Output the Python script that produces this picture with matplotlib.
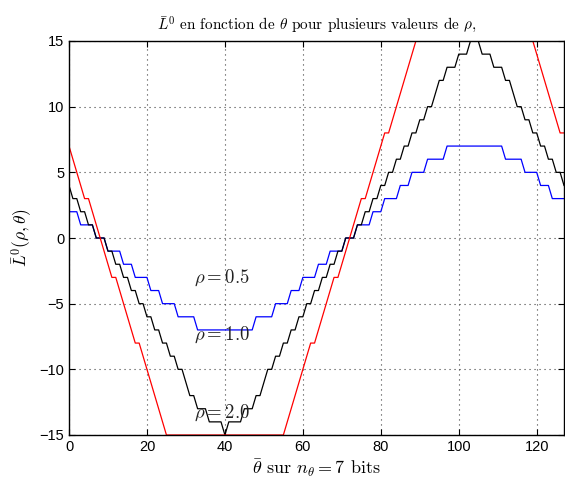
import matplotlib
matplotlib.use("Agg")
import matplotlib.pyplot as plt
import numpy as np

# theta_bar values (7 bits)
theta = np.arange(128)

# rho = 0.5 (blue)
L_rho05 = [2, 2, 2, 1, 1, 1, 1, 0, 0, 0, -1, -1, -1, -1, -2, -2,
           -2, -3, -3, -3, -3, -4, -4, -4, -5, -5, -5, -5, -6, -6, -6, -6,
           -6, -7, -7, -7, -7, -7, -7, -7, -7, -7, -7, -7, -7, -7, -7, -7,
           -6, -6, -6, -6, -6, -5, -5, -5, -5, -4, -4, -4, -3, -3, -3, -3,
           -2, -2, -2, -1, -1, -1, -1, 0, 0, 0, 1, 1, 1, 1, 2, 2,
           2, 3, 3, 3, 3, 4, 4, 4, 5, 5, 5, 5, 6, 6, 6, 6,
           6, 7, 7, 7, 7, 7, 7, 7, 7, 7, 7, 7, 7, 7, 7, 7,
           6, 6, 6, 6, 6, 5, 5, 5, 5, 4, 4, 4, 3, 3, 3, 3]

# rho = 1.0 (black)
L_rho10 = [4, 3, 3, 2, 2, 1, 1, 0, 0, 0, -1, -1, -2, -2, -3, -3,
           -4, -4, -5, -5, -6, -6, -7, -7, -8, -8, -9, -9, -10, -10, -11, -12,
           -12, -13, -13, -13, -14, -14, -14, -14, -15, -14, -14, -14, -14, -13, -13, -13,
           -12, -12, -11, -10, -10, -9, -9, -8, -8, -7, -7, -6, -6, -5, -5, -4,
           -4, -3, -3, -2, -2, -1, -1, 0, 0, 0, 1, 1, 2, 2, 3, 3,
           4, 4, 5, 5, 6, 6, 7, 7, 8, 8, 9, 9, 10, 10, 11, 12,
           12, 13, 13, 13, 14, 14, 14, 15, 15, 15, 14, 14, 14, 13, 13, 13,
           12, 12, 11, 10, 10, 9, 9, 8, 8, 7, 7, 6, 6, 5, 5, 4]

# rho = 2.0 (red)
L_rho20 = [7, 6, 5, 4, 3, 3, 2, 1, 0, -1, -2, -3, -3, -4, -5, -6,
           -7, -8, -8, -9, -10, -11, -12, -13, -14, -15, -15, -15, -15, -15, -15, -15,
           -15, -15, -15, -15, -15, -15, -15, -15, -15, -15, -15, -15, -15, -15, -15, -15,
           -15, -15, -15, -15, -15, -15, -15, -15, -14, -13, -12, -11, -10, -9, -8, -8,
           -7, -6, -5, -4, -3, -3, -2, -1, 0, 1, 2, 3, 3, 4, 5, 6,
           7, 8, 8, 9, 10, 11, 12, 13, 14, 15, 15, 15, 15, 15, 15, 15,
           15, 15, 15, 15, 15, 15, 15, 15, 15, 15, 15, 15, 15, 15, 15, 15,
           15, 15, 15, 15, 15, 15, 15, 15, 14, 13, 12, 11, 10, 9, 8, 8]

plt.rcParams['mathtext.fontset'] = 'cm'
plt.rcParams['font.family'] = ['Liberation Sans', 'DejaVu Sans']

fig = plt.figure(figsize=(5.65, 4.78), dpi=100)
ax = fig.add_axes([69/565, 43/478, 495/565, 394/478])

ax.plot(theta, L_rho05, color='#0000ff', linewidth=0.9)
ax.plot(theta, L_rho10, color='black', linewidth=0.9)
ax.plot(theta, L_rho20, color='#ff0000', linewidth=0.9)

ax.text(32, -3, r'$\rho = 0.5$', fontsize=13.5, va='center', color='#222222')
ax.text(32, -7.4, r'$\rho = 1.0$', fontsize=13.5, va='center', color='#222222')
ax.text(32, -13.3, r'$\rho = 2.0$', fontsize=13.5, va='center', color='#222222')

ax.set_xlim(0, 127)
ax.set_ylim(-15, 15)
ax.set_xticks([0, 20, 40, 60, 80, 100, 120])
ax.set_yticks([-15, -10, -5, 0, 5, 10, 15])
ax.tick_params(direction='in', top=True, right=True, labelsize=10.5, length=4)
ax.grid(True, color='0.25', linestyle=(0, (1, 3.5)), linewidth=0.8)
for s in ax.spines.values():
    s.set_linewidth(1.0)

ax.set_title(r'$\bar{L}^0$ en fonction de $\theta$ pour plusieurs valeurs de $\rho$,',
             fontsize=11, family='cmr10', pad=8)
ax.set_xlabel(r'$\bar{\theta}$ sur $n_\theta = 7$ bits', fontsize=13, family='cmr10', labelpad=2)
ax.set_ylabel(r'$\bar{L}^0(\rho,\theta)$', fontsize=12.5, labelpad=4)

fig.savefig('out.png', dpi=100)
